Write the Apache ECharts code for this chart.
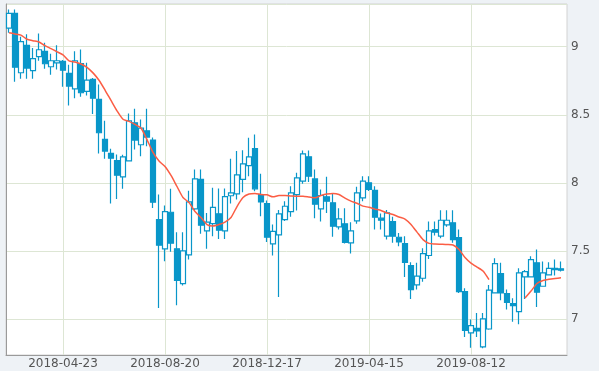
<!DOCTYPE html>
<html>
<head>
<meta charset="utf-8">
<script src="https://cdn.jsdelivr.net/npm/echarts@6/dist/echarts.min.js"></script>
<style>
html,body{margin:0;padding:0;background:#eef2f6;}
#chart{width:599px;height:371px;}
</style>
</head>
<body>
<div id="chart"></div>
<script>
const categories = [
'2018-02-19','2018-02-26','2018-03-05','2018-03-12','2018-03-19','2018-03-26','2018-04-02','2018-04-09','2018-04-16','2018-04-23',
'2018-04-30','2018-05-07','2018-05-14','2018-05-21','2018-05-28','2018-06-04','2018-06-11','2018-06-18','2018-06-25','2018-07-02',
'2018-07-09','2018-07-16','2018-07-23','2018-07-30','2018-08-06','2018-08-13','2018-08-20','2018-08-27','2018-09-03','2018-09-10',
'2018-09-17','2018-09-24','2018-10-01','2018-10-08','2018-10-15','2018-10-22','2018-10-29','2018-11-05','2018-11-12','2018-11-19',
'2018-11-26','2018-12-03','2018-12-10','2018-12-17','2018-12-24','2018-12-31','2019-01-07','2019-01-14','2019-01-21','2019-01-28',
'2019-02-04','2019-02-11','2019-02-18','2019-02-25','2019-03-04','2019-03-11','2019-03-18','2019-03-25','2019-04-01','2019-04-08',
'2019-04-15','2019-04-22','2019-04-29','2019-05-06','2019-05-13','2019-05-20','2019-05-27','2019-06-03','2019-06-10','2019-06-17',
'2019-06-24','2019-07-01','2019-07-08','2019-07-15','2019-07-22','2019-07-29','2019-08-05','2019-08-12','2019-08-19','2019-08-26',
'2019-09-02','2019-09-09','2019-09-16','2019-09-23','2019-09-30','2019-10-07','2019-10-14','2019-10-21','2019-10-28','2019-11-04',
'2019-11-11','2019-11-18','2019-11-25'
];
const openP = [
9.137,9.245,8.809,9.010,8.824,8.927,8.966,8.853,8.882,8.892,
8.804,8.691,8.877,8.672,8.760,8.613,8.319,8.216,8.164,8.044,
8.162,8.441,8.280,8.382,8.314,7.730,7.515,7.784,7.515,7.260,
7.471,7.809,8.025,7.647,7.701,7.772,7.647,7.905,7.919,8.025,
8.127,8.252,7.914,7.848,7.552,7.618,7.730,7.789,7.914,8.012,
8.191,8.029,7.809,7.897,7.853,7.677,7.699,7.559,7.721,7.890,
8.000,7.944,7.740,7.608,7.716,7.600,7.554,7.392,7.250,7.299,
7.466,7.657,7.608,7.691,7.706,7.598,7.201,6.897,6.931,6.794,
6.926,7.191,7.333,7.186,7.113,7.054,7.309,7.309,7.412,7.240,
7.324,7.372,7.368
];
const closeP = [
9.245,8.850,9.037,8.843,8.912,8.978,8.875,8.897,8.897,8.828,
8.711,8.897,8.662,8.755,8.622,8.368,8.233,8.181,8.056,8.191,
8.456,8.314,8.402,8.336,7.858,7.542,7.789,7.556,7.284,7.500,
7.860,8.029,7.689,7.711,7.819,7.652,7.899,7.926,8.059,8.140,
8.191,7.956,7.860,7.600,7.644,7.772,7.828,7.926,8.037,8.213,
8.049,7.843,7.907,7.865,7.681,7.735,7.563,7.647,7.926,8.012,
7.951,7.747,7.725,7.779,7.608,7.566,7.416,7.216,7.314,7.480,
7.647,7.637,7.725,7.725,7.583,7.201,6.916,6.951,6.912,7.000,
7.211,7.407,7.191,7.122,7.098,7.338,7.348,7.436,7.196,7.338,
7.372,7.363,7.358
];
const lowP = [
9.103,8.743,8.765,8.765,8.765,8.897,8.838,8.794,8.833,8.706,
8.569,8.622,8.633,8.642,8.505,8.216,8.177,7.848,7.882,7.956,
8.162,8.245,8.196,8.269,7.816,7.081,7.424,7.493,7.100,7.245,
7.436,7.800,7.625,7.515,7.608,7.588,7.588,7.848,7.877,7.931,
8.049,7.939,7.755,7.566,7.466,7.162,7.720,7.750,7.797,7.993,
8.007,7.740,7.716,7.779,7.603,7.657,7.554,7.480,7.699,7.865,
7.940,7.657,7.657,7.583,7.559,7.534,7.309,7.147,7.216,7.274,
7.441,7.613,7.593,7.677,7.559,7.191,6.868,6.789,6.868,6.784,
6.920,7.190,7.137,7.069,6.980,6.961,7.147,7.310,7.088,7.240,
7.320,7.319,7.348
];
const highP = [
9.274,9.274,9.074,9.091,8.990,9.098,9.029,8.949,9.010,8.902,
8.868,8.966,8.980,8.882,8.770,8.723,8.456,8.250,8.208,8.206,
8.510,8.544,8.466,8.544,8.333,7.914,7.833,7.956,7.637,7.637,
7.941,8.098,8.098,7.779,7.963,7.958,7.958,8.177,8.233,8.240,
8.331,8.355,8.066,7.870,7.694,7.800,7.865,7.975,8.074,8.238,
8.238,8.098,7.951,8.044,7.922,7.813,7.813,7.711,7.971,8.049,
8.049,7.975,7.775,7.800,7.750,7.632,7.608,7.416,7.412,7.519,
7.716,7.716,7.799,7.799,7.799,7.657,7.225,6.995,7.044,7.044,
7.250,7.446,7.412,7.216,7.152,7.372,7.360,7.461,7.510,7.422,
7.417,7.436,7.422
];
const maLine = [
9.103,9.094,9.085,9.055,9.044,9.035,9.008,8.986,8.963,8.940,
8.896,8.888,8.873,8.849,8.808,8.754,8.682,8.605,8.529,8.467,
8.452,8.429,8.403,8.318,8.223,8.160,8.120,8.054,7.973,7.892,
7.855,7.789,7.745,7.693,7.683,7.694,7.712,7.745,7.826,7.892,
7.918,7.922,7.914,7.912,7.897,7.907,7.907,7.903,7.902,7.902,
7.896,7.890,7.907,7.918,7.922,7.914,7.888,7.866,7.850,7.829,
7.820,7.807,7.797,7.778,7.767,7.749,7.734,7.694,7.638,7.583,
7.555,7.551,7.549,7.547,7.543,7.510,7.451,7.410,7.381,7.352,
7.289,null,null,null,null,null,7.153,7.205,7.260,7.282,
7.291,7.297,7.302
];
const yMin = 6.735, yMax = 9.314;
const firstLabel = 9, labelStep = 17;

const blue = '#0996c9';
const red = '#fb5d44';
const gridCol = '#dde6d4';
const labelFn = function (i) { return (i - firstLabel) % labelStep === 0; };

const candles = openP.map(function (o, i) { return [o, closeP[i], lowP[i], highP[i]]; });

const chart = echarts.init(document.getElementById('chart'), null, {renderer: 'canvas'});
chart.setOption({
  animation: false,
  backgroundColor: '#eef2f6',
  grid: [
    {left: 6, right: 32, top: 4, bottom: 16, show: true, backgroundColor: '#ffffff', borderColor: '#d2d2d2', borderWidth: 1},
    {left: 6, width: 558, top: 4, bottom: 16, show: false}
  ],
  xAxis: [
    {gridIndex: 0, type: 'value', min: 0, max: 1, axisLine: {show: true, onZero: false, lineStyle: {color: '#9a9a9a'}},
     axisTick: {show: false}, axisLabel: {show: false}, splitLine: {show: false}},
    {gridIndex: 1, type: 'category', data: categories, boundaryGap: true,
     axisLine: {show: false}, axisTick: {show: false},
     axisLabel: {interval: labelFn, margin: 3, color: '#555', fontFamily: 'DejaVu Sans', fontSize: 12},
     splitLine: {show: true, interval: labelFn, alignWithLabel: true, lineStyle: {color: gridCol, width: 1}}}
  ],
  yAxis: [
    {gridIndex: 0, type: 'value', position: 'right', min: yMin, max: yMax,
     axisLine: {show: true, lineStyle: {color: '#9a9a9a'}}, axisTick: {show: false},
     axisLabel: {showMinLabel: false, showMaxLabel: false, margin: 4, color: '#555', fontFamily: 'DejaVu Sans', fontSize: 12},
     splitLine: {show: true, lineStyle: {color: gridCol, width: 1}}},
    {gridIndex: 1, type: 'value', min: yMin, max: yMax, show: false, splitLine: {show: false}}
  ],
  series: [
    {type: 'candlestick', xAxisIndex: 1, yAxisIndex: 1, data: candles, barWidth: 5,
     itemStyle: {color: '#ffffff', color0: blue, borderColor: blue, borderColor0: blue, borderWidth: 1.2}},
    {type: 'line', xAxisIndex: 1, yAxisIndex: 1, data: maLine, showSymbol: false, smooth: 0.2,
     connectNulls: false, lineStyle: {color: red, width: 1.5}, z: 3}
  ]
});
</script>
</body>
</html>
